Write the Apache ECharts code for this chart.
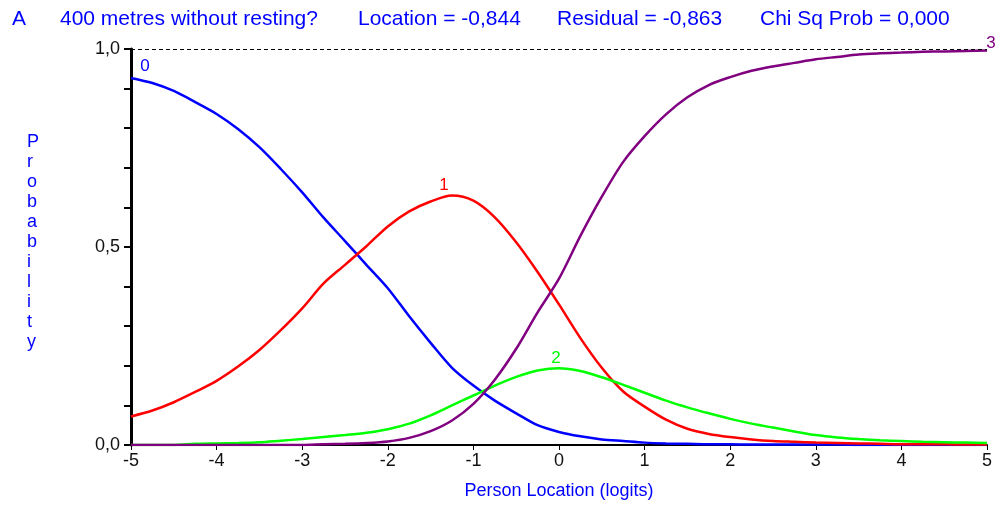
<!DOCTYPE html>
<html>
<head>
<meta charset="utf-8">
<script src="https://cdn.jsdelivr.net/npm/echarts@6/dist/echarts.min.js"></script>
<style>
  html, body { margin: 0; padding: 0; background: #fff; }
  #chart { width: 1001px; height: 505px; }
</style>
</head>
<body>
<div id="chart"></div>
<script>
// Person location (logits)
const xs = [-5, -4.75, -4.5, -4.25, -4, -3.75, -3.5, -3.25, -3, -2.75, -2.5, -2.25, -2, -1.75, -1.5, -1.25, -1, -0.75, -0.5, -0.25, 0, 0.25, 0.5, 0.75, 1, 1.25, 1.5, 1.75, 2, 2.25, 2.5, 2.75, 3, 3.25, 3.5, 3.75, 4, 4.25, 4.5, 4.75, 5];
// Category probability curves
const cat0 = [0.927, 0.914, 0.894, 0.866, 0.836, 0.798, 0.752, 0.697, 0.638, 0.574, 0.515, 0.455, 0.396, 0.325, 0.258, 0.195, 0.150, 0.112, 0.080, 0.050, 0.033, 0.022, 0.014, 0.010, 0.006, 0.004, 0.003, 0.002, 0.002, 0.001, 0.001, 0.001, 0.001, 0.001, 0.000, 0.000, 0.000, 0.000, 0.000, 0.000, 0.000];
const cat1 = [0.072, 0.087, 0.108, 0.134, 0.162, 0.198, 0.240, 0.290, 0.345, 0.408, 0.455, 0.502, 0.552, 0.590, 0.615, 0.630, 0.617, 0.575, 0.512, 0.437, 0.355, 0.270, 0.195, 0.135, 0.097, 0.064, 0.041, 0.028, 0.020, 0.014, 0.010, 0.008, 0.006, 0.005, 0.004, 0.003, 0.002, 0.002, 0.002, 0.001, 0.001];
const cat2 = [0.000, 0.000, 0.000, 0.003, 0.004, 0.005, 0.007, 0.011, 0.015, 0.020, 0.025, 0.031, 0.040, 0.054, 0.075, 0.100, 0.125, 0.150, 0.172, 0.188, 0.194, 0.187, 0.171, 0.152, 0.132, 0.112, 0.095, 0.080, 0.066, 0.054, 0.044, 0.034, 0.025, 0.019, 0.015, 0.012, 0.010, 0.008, 0.007, 0.006, 0.005];
const cat3 = [0.000, 0.000, 0.000, 0.000, 0.000, 0.000, 0.000, 0.000, 0.000, 0.002, 0.003, 0.005, 0.009, 0.018, 0.035, 0.062, 0.104, 0.165, 0.243, 0.335, 0.420, 0.528, 0.627, 0.715, 0.780, 0.835, 0.878, 0.909, 0.929, 0.945, 0.956, 0.965, 0.974, 0.980, 0.986, 0.989, 0.991, 0.993, 0.994, 0.995, 0.996];
const catNames = ['0', '1', '2', '3'];
const catColors = ['#0000ff', '#ff0000', '#00ff00', '#800080'];
const xTicks = [-5, -4, -3, -2, -1, 0, 1, 2, 3, 4, 5];
const yLabelled = [0, 0.5, 1];
const headerTexts = ['A', '400 metres without resting?', 'Location = -0,844', 'Residual = -0,863', 'Chi Sq Prob = 0,000'];

const FONT = '"Liberation Sans", Arial, sans-serif';
const curves = [cat0, cat1, cat2, cat3];
// where each category number sits relative to its curve
const labelAt = [
  { idx: 0, offset: [14, -12] },
  { idx: cat1.indexOf(Math.max(...cat1)), offset: [-8, -10] },
  { idx: cat2.indexOf(Math.max(...cat2)), offset: [-3, -10] },
  { idx: cat3.length - 1, offset: [4, -7] }
];

const series = curves.map((vals, i) => ({
  name: catNames[i],
  type: 'line',
  data: xs.map((x, k) => [x, vals[k]]),
  showSymbol: false,
  smooth: 0.3,
  lineStyle: { color: catColors[i], width: 2.5 },
  itemStyle: { color: catColors[i] },
  z: 3,
  markPoint: {
    symbol: 'circle', symbolSize: 0, silent: true,
    data: [{ coord: [xs[labelAt[i].idx], vals[labelAt[i].idx]] }],
    label: {
      show: true, position: 'inside', formatter: catNames[i],
      offset: labelAt[i].offset, color: catColors[i],
      fontFamily: FONT, fontSize: 17
    }
  }
}));
series[0].markLine = {
  silent: true, symbol: ['none', 'none'],
  label: { show: false },
  lineStyle: { color: '#000', width: 1, type: [4, 3] },
  data: [{ yAxis: 1 }]
};

const headerX = [12, 60, 358, 557, 760];
const graphics = headerTexts.map((t, i) => ({
  type: 'text', left: headerX[i], top: 9,
  style: { text: t, fill: '#0000ff', font: '21px ' + FONT }
}));
graphics.push({
  type: 'text', left: 27, top: 132,
  style: {
    text: 'Probability'.split('').join('\n'),
    fill: '#0000ff', font: '18px ' + FONT, lineHeight: 20, align: 'center'
  }
});

const chart = echarts.init(document.getElementById('chart'), null, { renderer: 'canvas' });
chart.setOption({
  animation: false,
  backgroundColor: '#fff',
  grid: { left: 131, right: 14, top: 49, bottom: 56 },
  graphic: graphics,
  xAxis: {
    type: 'value', min: -5, max: 5, interval: 1,
    name: 'Person Location (logits)', nameLocation: 'middle', nameGap: 37,
    nameTextStyle: { color: '#0000ff', fontFamily: FONT, fontSize: 18 },
    axisLine: { show: true, onZero: false, lineStyle: { color: '#000', width: 2 } },
    axisTick: { show: true, length: 5, lineStyle: { color: '#000', width: 1 } },
    axisLabel: {
      color: '#111', fontFamily: FONT, fontSize: 18, margin: 7,
      formatter: v => xTicks.includes(v) ? String(v) : ''
    },
    splitLine: { show: false }
  },
  yAxis: {
    type: 'value', min: 0, max: 1, interval: 0.1,
    axisLine: { show: true, onZero: false, lineStyle: { color: '#000', width: 3 } },
    axisTick: { show: true, length: 7, lineStyle: { color: '#000', width: 2 } },
    axisLabel: {
      color: '#111', fontFamily: FONT, fontSize: 18, margin: 11,
      formatter: v => yLabelled.some(t => Math.abs(t - v) < 1e-6) ? v.toFixed(1).replace('.', ',') : ''
    },
    splitLine: { show: false }
  },
  series: series
});
</script>
</body>
</html>
